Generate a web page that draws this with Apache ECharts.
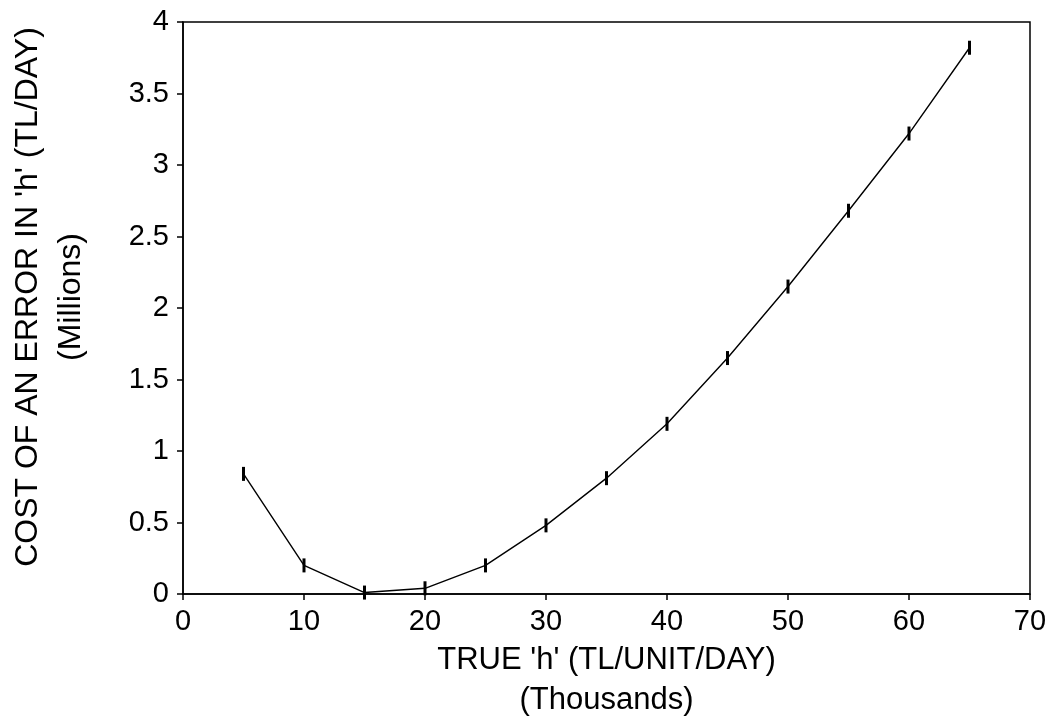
<!DOCTYPE html>
<html>
<head>
<meta charset="utf-8">
<script src="https://cdn.jsdelivr.net/npm/echarts@6/dist/echarts.min.js"></script>
<style>
html,body{margin:0;padding:0;background:#fff;}
#chart{width:1050px;height:719px;}
</style>
</head>
<body>
<div id="chart"></div>
<script>
const trueH = [5, 10, 15, 20, 25, 30, 35, 40, 45, 50, 55, 60, 65];
const costMillions = [0.84, 0.20, 0.01, 0.04, 0.20, 0.48, 0.81, 1.19, 1.65, 2.15, 2.68, 3.22, 3.82];
const xTitle = "TRUE 'h' (TL/UNIT/DAY)\n(Thousands)";
const yTitle = "COST OF AN ERROR IN 'h' (TL/DAY)\n(Millions)";

const chart = echarts.init(document.getElementById('chart'), null, {renderer: 'canvas'});
const font = '"Liberation Sans", Arial, sans-serif';
const points = trueH.map((x, i) => [x, costMillions[i]]);

chart.setOption({
  animation: false,
  backgroundColor: '#fff',
  grid: {
    left: 183, right: 20, top: 22, bottom: 125,
    outerBoundsMode: 'none', containLabel: false,
    show: true, borderColor: '#000', borderWidth: 1.5, backgroundColor: 'transparent'
  },
  xAxis: {
    type: 'value', min: 0, max: 70, interval: 10,
    name: xTitle, nameLocation: 'middle', nameGap: 45,
    nameTextStyle: {color: '#000', fontSize: 31, fontFamily: font, lineHeight: 40, verticalAlign: 'top'},
    axisLine: {show: true, lineStyle: {color: '#000', width: 1.5}},
    axisTick: {show: true, inside: false, length: 6, lineStyle: {color: '#000', width: 1.5}},
    axisLabel: {color: '#000', fontSize: 29, fontFamily: font, margin: 13},
    splitLine: {show: false}
  },
  yAxis: {
    type: 'value', min: 0, max: 4, interval: 0.5,
    name: yTitle, nameLocation: 'middle', nameGap: 90, nameRotate: 90,
    nameTextStyle: {color: '#000', fontSize: 32, fontFamily: font, lineHeight: 43, padding: [0, 0, 0, 22]},
    axisLine: {show: true, lineStyle: {color: '#000', width: 1.5}},
    axisTick: {show: true, inside: false, length: 6, lineStyle: {color: '#000', width: 1.5}},
    axisLabel: {color: '#000', fontSize: 29, fontFamily: font, margin: 14},
    splitLine: {show: false}
  },
  series: [{
    type: 'line',
    data: points,
    symbol: 'rect',
    symbolSize: [3, 14],
    showSymbol: true,
    lineStyle: {color: '#000', width: 1.4},
    itemStyle: {color: '#000', borderWidth: 0}
  }]
});
</script>
</body>
</html>
